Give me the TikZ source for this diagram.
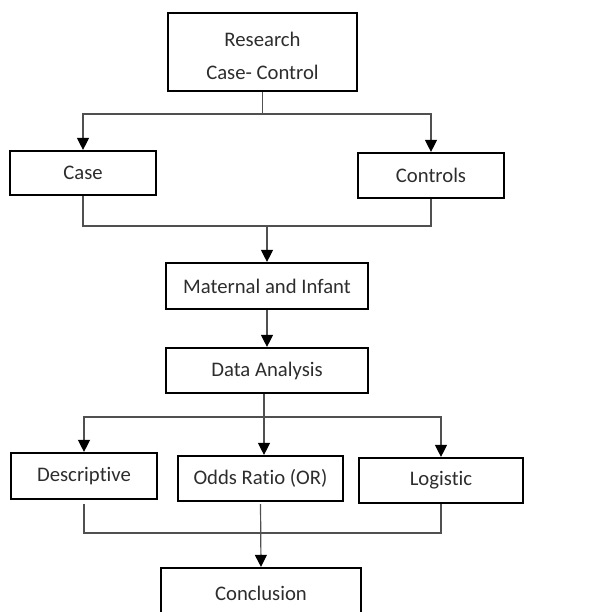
\documentclass[tikz,border=0pt]{standalone}
\usepackage{fontspec}
\setmainfont{Carlito}[Ligatures={NoCommon,NoRare}]
\usepackage{xcolor}
\usetikzlibrary{arrows.meta}
\definecolor{txt_gray}{RGB}{45,45,45}
\definecolor{line_gray}{RGB}{80,80,80}

\begin{document}
\begin{tikzpicture}[x=0.5pt,y=-0.5pt,
  box/.style={draw=black,line width=1.1pt,inner sep=0pt,align=center,
    text=txt_gray,font=\fontsize{10.35}{16.5}\selectfont},
  link/.style={draw=line_gray,line width=0.6pt},
  arr/.style={link,-{Triangle[length=6pt,width=6pt,black]}}]

 \useasboundingbox (0,0) rectangle (599,612);
 \clip (0,0) rectangle (599,612);

 % top
 \node[box,minimum width=94.5pt,minimum height=39pt] (research) at (262.5,52) {\rule{0pt}{10.7pt}Research\\Case- Control};
 \node[box,minimum width=73pt,minimum height=22pt] (case) at (83,173) {Case};
 \node[box,minimum width=73pt,minimum height=22.5pt] (controls) at (431,175.5) {Controls};

 \coordinate (split1) at (262.5,114);
 \draw[link] (research.south) -- (split1);
 \draw[arr] (split1) -| (case.north);
 \draw[arr] (split1) -| (controls.north);

 % middle
 \node[box,minimum width=101pt,minimum height=23pt] (maternal) at (267,286) {Maternal and Infant};
 \node[box,minimum width=101pt,minimum height=22.5pt] (data) at (267,370.5) {Data Analysis};

 \coordinate (join1) at (267,226);
 \draw[link] (case.south) |- (join1) -| (controls.south);
 \draw[arr] (join1) -- (maternal.north);
 \draw[arr] (maternal.south) -- (data.north);

 % analysis
 \node[box,minimum width=73pt,minimum height=23pt] (descriptive) at (84,476) {Descriptive};
 \node[box,minimum width=82.5pt,minimum height=22.5pt] (odds) at (260.5,478.5) {Odds Ratio (OR)};
 \node[box,minimum width=82pt,minimum height=22.5pt] (logistic) at (441,480.5) {Logistic};

 \coordinate (split2) at (264,417);
 \draw[link] (split2 |- data.south) -- (split2);
 \draw[arr] (split2) -| (descriptive.north);
 \draw[arr] (split2) -- (split2 |- odds.north);
 \draw[arr] (split2) -| (logistic.north);

 % bottom
 \node[box,minimum width=100pt,minimum height=25pt] (conclusion) at (261,593) {Conclusion};

 \coordinate (join2) at (261,533);
 \draw[link, shorten <=2pt] (descriptive.south) |- (join2) -| (logistic.south);
 \draw[arr, shorten <=1pt] (odds.south) -- (conclusion.north);
\end{tikzpicture}
\end{document}
